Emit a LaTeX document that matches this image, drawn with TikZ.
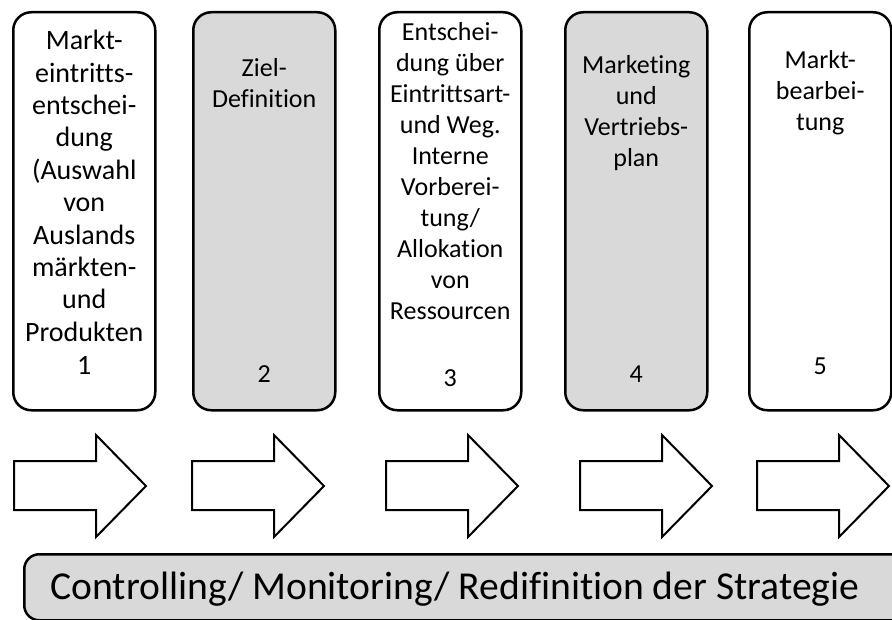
\documentclass[tikz,border=0pt]{standalone}
\usepackage{fontspec}
\setmainfont{Carlito}[Ligatures=CommonOff]
\definecolor{boxgray}{HTML}{D9D9D9}
\begin{document}
\begin{tikzpicture}[x=1pt, y=-1pt,
	stufe/.style = {draw, line width=2.5pt, rounded corners=18pt, minimum width=142pt, minimum height=398pt, inner sep=0pt, anchor=north west},
	grau/.style = {fill=boxgray},
	gross/.style = {align=center, inner sep=0pt, anchor=north, font=\fontsize{28}{32.4}\selectfont},
	klein/.style = {align=center, inner sep=0pt, anchor=north, font=\fontsize{26}{31}\selectfont},
	nr/.style = {inner sep=0pt, anchor=base, font=\fontsize{26}{31}\selectfont},
	pfeil/.style = {draw, line width=2pt, fill=white, line join=miter}]
		\useasboundingbox (0,0) rectangle (892,620);
		\clip (0,0) rectangle (892,620);
		\node [stufe] (b1) at (12,11) {};
		\node [stufe, grau] (b2) at (192,11) {};
		\node [stufe] (b3) at (378,11) {};
		\node [stufe, grau] (b4) at (564,11) {};
		\node [stufe] (b5) at (748,11) {};
		\node [gross] (t1) at (b1.north |- 0,30) {Markt-\\eintritts-\\entschei-\\dung\\(Auswahl\\von\\Auslands\\märkten-\\und\\Produkten};
		\node [klein] (t2) at (b2.north |- 0,58) {Ziel-\\Definition};
		\node [klein] (t3) at (b3.north |- 0,22) {Entschei-\\dung über\\Eintrittsart-\\und Weg.\\Interne\\Vorberei-\\tung/\\Allokation\\von\\Ressourcen};
		\node [klein] (t4) at (b4.north |- 0,55) {Marketing\\und\\Vertriebs-\\plan};
		\node [klein] (t5) at (b5.north |- 0,50) {Markt-\\bearbei-\\tung};
		\node [nr, font=\fontsize{28}{32.4}\selectfont] (n1) at (b1.north |- 0,374) {1};
		\node [nr] (n2) at (b2.north |- 0,383) {2};
		\node [nr] (n3) at (b3.north |- 0,386) {3};
		\node [nr] (n4) at (b4.north |- 0,383) {4};
		\node [nr] (n5) at (b5.north |- 0,375) {5};
		\foreach \x in {14,192,386,580,757}
			\draw [pfeil] (\x,461) -- ++(82,0) -- ++(0,-26) -- ++(50,51) -- ++(-50,51) -- ++(0,-27) -- ++(-82,0) -- cycle;
		\node [draw, fill=boxgray, line width=2.5pt, rounded corners=15pt, minimum width=900pt, minimum height=66pt, anchor=north west] (bar) at (23,553) {};
		\node [inner sep=0pt, anchor=base, font=\fontsize{39.6}{44}\selectfont] (ctrl) at (455,599) {Controlling/ Monitoring/ Redifinition der Strategie};
	\end{tikzpicture}
\end{document}
